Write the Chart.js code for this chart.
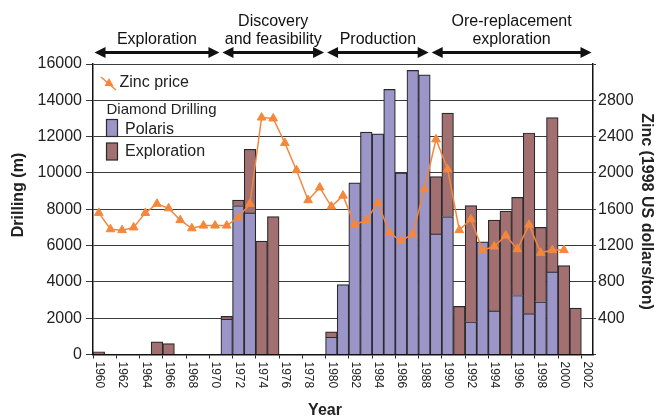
<!DOCTYPE html>
<html>
<head>
<meta charset="utf-8">
<script src="https://cdn.jsdelivr.net/npm/chart.js@4.4.1/dist/chart.umd.min.js"></script>
<style>
  html, body { margin: 0; padding: 0; background: #fff; }
  canvas { display: block; }
</style>
</head>
<body>
<canvas id="myChart" width="658" height="419"></canvas>
<script>
// categories
const years = ['1960', '1961', '1962', '1963', '1964', '1965', '1966', '1967', '1968', '1969',
  '1970', '1971', '1972', '1973', '1974', '1975', '1976', '1977', '1978', '1979',
  '1980', '1981', '1982', '1983', '1984', '1985', '1986', '1987', '1988', '1989',
  '1990', '1991', '1992', '1993', '1994', '1995', '1996', '1997', '1998', '1999',
  '2000', '2001', '2002'];

// diamond drilling (m), Polaris at the bottom, exploration stacked on top
const polarisDrilling = [null, null, null, null, null, null, null, null, null, null,
  null, 1950, 8200, 7800, null, null, null, null, null, null,
  950, 3850, 9450, 12250, 12150, 14600, 10000, 15650, 15400, 6650,
  7600, null, 1800, 6200, 2400, null, 3250, 2250, 2900, 4550,
  null, null, null];

const explorationDrilling = [150, null, null, null, null, 700, 600, null, null, null,
  null, 150, 300, 3500, 6250, 7600, null, null, null, null,
  300, null, null, null, null, null, null, null, null, 3150,
  5700, 2650, 6400, null, 5000, 7900, 5400, 9950, 4100, 8500,
  4900, 2550, null];

// zinc price (1998 US dollars/ton)
const zincPrice = [1560, 1380, 1370, 1400, 1560, 1660, 1610, 1480, 1390, 1420,
  1420, 1420, 1510, 1660, 2610, 2600, 2330, 2030, 1700, 1840,
  1630, 1750, 1430, 1480, 1670, 1340, 1250, 1330, 1820, 2370,
  2040, 1370, 1490, 1150, 1190, 1310, 1160, 1430, 1120, 1150,
  1150, null, null];

// phases shown above the plot: text lines, first year, year after the last
const phases = [
  [['Exploration'], 1960, 1971],
  [['Discovery', 'and feasibility'], 1971, 1980],
  [['Production'], 1980, 1989],
  [['Ore-replacement', 'exploration'], 1989, 2003]
];

const FONT = '"Liberation Sans", Arial, sans-serif';
const TEXT = '#222';
const BLUE = '#9b95c8';
const BROWN = '#a27070';
const ORANGE = '#f5873c';
const EDGE = '#2a2a2a';

const overlay = {
  id: 'overlay',
  afterDraw(chart) {
    const { ctx, chartArea, scales: { x } } = chart;
    const step = x.getPixelForValue(1) - x.getPixelForValue(0);
    const edge = i => x.getPixelForValue(i) - step / 2;
    const idx = y => {
      const i = years.indexOf(String(y));
      return i < 0 ? years.length : i;
    };

    ctx.save();
    ctx.fillStyle = TEXT;
    ctx.strokeStyle = '#111';

    // year labels, reading top to bottom
    ctx.font = '12px ' + FONT;
    ctx.textAlign = 'left';
    ctx.textBaseline = 'middle';
    years.forEach((y, i) => {
      if (i % 2) return;
      ctx.save();
      ctx.translate(x.getPixelForValue(i) + 0.5, chartArea.bottom + 7);
      ctx.rotate(Math.PI / 2);
      ctx.fillText(y, 0, 0);
      ctx.restore();
    });

    // axis titles
    ctx.font = 'bold 16px ' + FONT;
    ctx.textAlign = 'center';
    ctx.fillText('Year', 325, 410.5);
    ctx.save();
    ctx.translate(18.5, 195);
    ctx.rotate(-Math.PI / 2);
    ctx.fillText('Drilling (m)', 0, 0);
    ctx.restore();
    ctx.save();
    ctx.translate(646.5, 211.5);
    ctx.rotate(Math.PI / 2);
    ctx.fillText('Zinc (1998 US dollars/ton)', 0, 0);
    ctx.restore();

    // phase arrows
    ctx.font = '16px ' + FONT;
    ctx.fillStyle = '#111';
    const ay = 52.5, hl = 11, hw = 5.5;
    phases.forEach(([lines, from, to]) => {
      const x1 = edge(idx(from)) + 1.5;
      const x2 = edge(idx(to)) - 1.5;
      ctx.lineWidth = 3;
      ctx.beginPath();
      ctx.moveTo(x1 + hl - 1, ay);
      ctx.lineTo(x2 - hl + 1, ay);
      ctx.stroke();
      ctx.beginPath();
      ctx.moveTo(x1, ay);
      ctx.lineTo(x1 + hl, ay - hw);
      ctx.lineTo(x1 + hl, ay + hw);
      ctx.closePath();
      ctx.fill();
      ctx.beginPath();
      ctx.moveTo(x2, ay);
      ctx.lineTo(x2 - hl, ay - hw);
      ctx.lineTo(x2 - hl, ay + hw);
      ctx.closePath();
      ctx.fill();
      const cx = (x1 + x2) / 2;
      if (lines.length === 1) {
        ctx.fillText(lines[0], cx, 40);
      } else {
        ctx.fillText(lines[0], cx, 21.7);
        ctx.fillText(lines[1], cx, 40);
      }
    });

    // legend
    ctx.fillStyle = TEXT;
    ctx.textAlign = 'left';
    ctx.strokeStyle = ORANGE;
    ctx.lineWidth = 1.5;
    ctx.beginPath();
    ctx.moveTo(101, 77);
    ctx.lineTo(116, 90);
    ctx.stroke();
    ctx.fillStyle = ORANGE;
    ctx.beginPath();
    ctx.moveTo(109, 78);
    ctx.lineTo(113.5, 86);
    ctx.lineTo(104.5, 86);
    ctx.closePath();
    ctx.fill();
    ctx.fillStyle = TEXT;
    ctx.font = '16px ' + FONT;
    ctx.fillText('Zinc price', 119.5, 83);
    ctx.font = '15px ' + FONT;
    ctx.fillText('Diamond Drilling', 106.5, 109.5);
    ctx.font = '16px ' + FONT;
    ctx.lineWidth = 1.2;
    ctx.strokeStyle = EDGE;
    ctx.fillStyle = BLUE;
    ctx.fillRect(106.5, 119.5, 11, 17);
    ctx.strokeRect(106.5, 119.5, 11, 17);
    ctx.fillStyle = BROWN;
    ctx.fillRect(106.5, 143, 11, 17);
    ctx.strokeRect(106.5, 143, 11, 17);
    ctx.fillStyle = TEXT;
    ctx.fillText('Polaris', 125, 129.5);
    ctx.fillText('Exploration', 125, 152);
    ctx.restore();
  }
};

const ctx = document.getElementById('myChart');

new Chart(ctx, {
  type: 'bar',
  data: {
    labels: years,
    datasets: [
      {
        type: 'line',
        label: 'Zinc price',
        data: zincPrice,
        yAxisID: 'y2',
        order: 0,
        borderColor: ORANGE,
        borderWidth: 1.5,
        pointStyle: 'triangle',
        pointRadius: 5,
        pointBackgroundColor: ORANGE,
        pointBorderColor: ORANGE,
        pointBorderWidth: 1,
        tension: 0
      },
      {
        label: 'Polaris',
        data: polarisDrilling,
        yAxisID: 'y',
        order: 1,
        backgroundColor: BLUE,
        borderColor: EDGE,
        borderWidth: 1.2,
        barPercentage: 1,
        categoryPercentage: 1
      },
      {
        label: 'Exploration',
        data: explorationDrilling,
        yAxisID: 'y',
        order: 1,
        backgroundColor: BROWN,
        borderColor: EDGE,
        borderWidth: 1.2,
        barPercentage: 1,
        categoryPercentage: 1
      }
    ]
  },
  options: {
    responsive: false,
    animation: false,
    devicePixelRatio: 1,
    layout: { padding: { top: 64, left: 0, right: 0, bottom: 0 } },
    plugins: {
      legend: { display: false },
      tooltip: { enabled: false }
    },
    scales: {
      x: {
        stacked: true,
        offset: true,
        afterFit: s => { s.height = 64.5; },
        border: { display: true, color: '#111', width: 1.5 },
        grid: {
          offset: true,
          drawOnChartArea: false,
          tickLength: 4,
          color: c => (c.index % 2 === 0 ? '#222' : 'rgba(0,0,0,0)')
        },
        ticks: {
          autoSkip: false,
          minRotation: 90,
          maxRotation: 90,
          color: 'rgba(0,0,0,0)',
          font: { family: FONT, size: 12 },
          callback: (v, i) => (i % 2 === 0 ? years[i] : '')
        }
      },
      y: {
        stacked: true,
        position: 'left',
        min: 0,
        max: 16000,
        afterFit: s => { s.width = 93; },
        border: { display: true, color: '#111', width: 1.5 },
        grid: { color: '#3a3a3a', lineWidth: 1, tickLength: 7 },
        ticks: {
          stepSize: 2000,
          padding: 4,
          color: TEXT,
          font: { family: FONT, size: 16 },
          callback: v => String(v)
        }
      },
      y2: {
        position: 'right',
        min: 0,
        max: 3200,
        afterFit: s => { s.width = 65; },
        border: { display: true, color: '#111', width: 1.5 },
        grid: { drawOnChartArea: false, color: '#3a3a3a', tickLength: 3 },
        ticks: {
          stepSize: 400,
          padding: 2,
          color: TEXT,
          font: { family: FONT, size: 16 },
          callback: v => (v === 0 || v === 3200 ? '' : String(v))
        }
      }
    }
  },
  plugins: [overlay]
});
</script>
</body>
</html>
